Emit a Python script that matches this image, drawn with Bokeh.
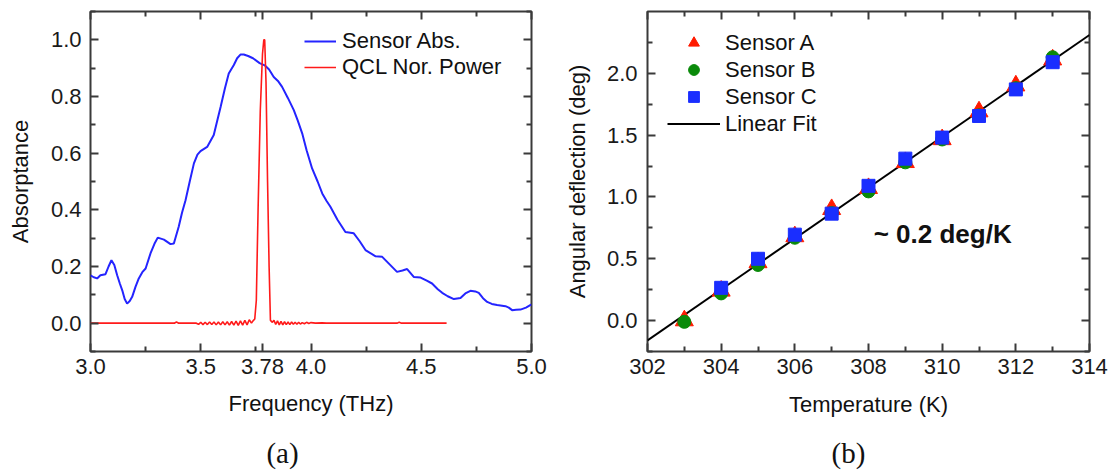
from bokeh.plotting import figure
from bokeh.models import (Range1d, FixedTicker, LinearAxis, Legend, LegendItem, Label,
                          CustomJSTickFormatter, NumeralTickFormatter)
from bokeh.core.properties import value
from bokeh.layouts import row, column
from bokeh.embed import file_html
from bokeh.resources import INLINE

# ---------------- Panel (a) data ----------------
abs_freq = [3.00, 3.015, 3.03, 3.045, 3.068, 3.082, 3.095, 3.108, 3.121, 3.133, 3.144, 3.155,
            3.166, 3.178, 3.189, 3.204, 3.219, 3.235, 3.25, 3.272, 3.29, 3.305, 3.333, 3.363,
            3.378, 3.40, 3.415, 3.431, 3.45, 3.469, 3.485, 3.499, 3.529, 3.559, 3.575, 3.59,
            3.61, 3.627, 3.65, 3.665, 3.68, 3.695, 3.715, 3.737, 3.767, 3.79, 3.81, 3.831,
            3.85, 3.869, 3.895, 3.922, 3.94, 3.96, 3.98, 4.005, 4.03, 4.051, 4.07, 4.088,
            4.12, 4.156, 4.194, 4.22, 4.247, 4.293, 4.323, 4.36, 4.39, 4.415, 4.436, 4.466,
            4.497, 4.525, 4.549, 4.575, 4.595, 4.62, 4.648, 4.678, 4.70, 4.723, 4.745, 4.761,
            4.78, 4.799, 4.82, 4.844, 4.882, 4.897, 4.912, 4.93, 4.95, 4.975, 5.0]
abs_val = [0.169, 0.162, 0.158, 0.169, 0.173, 0.200, 0.222, 0.205, 0.169, 0.140, 0.116, 0.085,
           0.069, 0.078, 0.093, 0.128, 0.158, 0.180, 0.193, 0.246, 0.280, 0.302, 0.295, 0.279,
           0.281, 0.340, 0.390, 0.434, 0.500, 0.564, 0.595, 0.607, 0.622, 0.664, 0.715, 0.763,
           0.830, 0.881, 0.911, 0.935, 0.948, 0.948, 0.943, 0.935, 0.918, 0.910, 0.895, 0.869,
           0.855, 0.834, 0.795, 0.752, 0.715, 0.670, 0.610, 0.546, 0.500, 0.458, 0.432, 0.411,
           0.365, 0.322, 0.317, 0.290, 0.258, 0.236, 0.234, 0.205, 0.181, 0.186, 0.191, 0.163,
           0.161, 0.150, 0.140, 0.120, 0.107, 0.095, 0.085, 0.089, 0.105, 0.114, 0.112, 0.107,
           0.088, 0.075, 0.068, 0.064, 0.060, 0.055, 0.046, 0.047, 0.048, 0.055, 0.066]

qcl_freq = [3.00, 3.38, 3.39, 3.40, 3.48, 3.49, 3.50, 3.51, 3.52, 3.53, 3.54, 3.55, 3.56, 3.57,
            3.58, 3.59, 3.60, 3.61, 3.62, 3.63, 3.64, 3.65, 3.66, 3.67, 3.68, 3.69, 3.70, 3.71,
            3.72, 3.73, 3.737, 3.745, 3.752, 3.760, 3.770, 3.780, 3.786, 3.790, 3.796, 3.803,
            3.810, 3.816, 3.825, 3.832, 3.840, 3.848, 3.856, 3.864, 3.872, 3.880, 3.888, 3.896,
            3.904, 3.912, 3.920, 3.928, 3.936, 3.944, 3.952, 3.960, 3.970, 3.980, 3.990, 4.000,
            4.020, 4.050, 4.070, 4.390, 4.400, 4.410, 4.615]
qcl_power = [0.0, 0.0, 0.004, 0.0, 0.0, -0.004, 0.003, -0.005, 0.003, -0.005, 0.004, -0.005, 0.004,
             -0.006, 0.004, -0.006, 0.005, -0.006, 0.005, -0.007, 0.006, -0.007, 0.007, -0.008,
             0.008, -0.007, 0.010, -0.006, 0.012, 0.000, 0.008, 0.015, 0.08, 0.40, 0.75, 0.95,
             1.0, 1.0, 0.85, 0.50, 0.20, 0.01, 0.003, 0.010, -0.004, 0.008, -0.006, 0.006, -0.006,
             0.005, -0.005, 0.004, -0.005, 0.004, -0.004, 0.003, -0.004, 0.003, -0.003, 0.002,
             -0.002, 0.003, -0.001, 0.002, 0.0, 0.001, 0.0, 0.0, 0.003, 0.0, 0.0]

a_xticks = [3.0, 3.5, 3.78, 4.0, 4.5, 5.0]
a_xtick_labels = ["3.0", "3.5", "3.78", "4.0", "4.5", "5.0"]
a_xminor = [3.25, 3.75, 4.25, 4.75]
a_yticks = [0.0, 0.2, 0.4, 0.6, 0.8, 1.0]
a_yminor = [-0.1, 0.1, 0.3, 0.5, 0.7, 0.9, 1.1]

# ---------------- Panel (b) data ----------------
temp_a = [303, 304, 305, 306, 307, 308, 309, 310, 311, 312, 313]
sensor_a = [0.00, 0.24, 0.47, 0.68, 0.90, 1.07, 1.28, 1.465, 1.69, 1.90, 2.11]
temp_b = [303, 304, 305, 306, 307, 308, 309, 310, 311, 312, 313]
sensor_b = [-0.01, 0.22, 0.45, 0.67, 0.87, 1.045, 1.28, 1.465, 1.66, 1.88, 2.13]
temp_c = [304, 305, 306, 307, 308, 309, 310, 311, 312, 313]
sensor_c = [0.265, 0.50, 0.695, 0.865, 1.09, 1.31, 1.48, 1.655, 1.87, 2.09]
fit_x = [302, 314]
fit_y = [-0.16, 2.31]

b_xticks = [302, 304, 306, 308, 310, 312, 314]
b_xminor = [303, 305, 307, 309, 311, 313]
b_yticks = [0.0, 0.5, 1.0, 1.5, 2.0]
b_yminor = [-0.25, 0.25, 0.75, 1.25, 1.75, 2.25]

panel_tags = ["(a)", "(b)"]

FONT = "Liberation Sans"
FRAME = "#3a3a3a"


def style_axis(ax, ticks, minor, labels=True, standoff=8, label_standoff=10):
    ax.ticker = FixedTicker(ticks=ticks, minor_ticks=minor)
    ax.major_tick_in = 8
    ax.major_tick_out = 0
    ax.minor_tick_in = 5
    ax.minor_tick_out = 0
    ax.major_tick_line_width = 2
    ax.minor_tick_line_width = 2
    ax.major_tick_line_color = FRAME
    ax.minor_tick_line_color = FRAME
    ax.axis_line_color = None
    if labels:
        ax.major_label_text_font = FONT
        ax.major_label_text_font_size = "22px"
        ax.major_label_text_color = "#1a1a1a"
        ax.major_label_standoff = standoff
        ax.axis_label_text_font = FONT
        ax.axis_label_text_font_size = "22px"
        ax.axis_label_text_font_style = "normal"
        ax.axis_label_text_color = "#111111"
        ax.axis_label_standoff = label_standoff
    else:
        ax.major_label_text_font_size = "1px"
        ax.major_label_text_color = None
        ax.major_label_standoff = 0


def base_fig(width, xr, yr, bl, br, xlabel, ylabel):
    p = figure(width=width, height=422, x_range=xr, y_range=yr,
               output_backend="svg", toolbar_location=None,
               min_border_left=bl, min_border_right=br,
               min_border_top=11, min_border_bottom=71,
               x_axis_label=xlabel, y_axis_label=ylabel)
    p.outline_line_color = FRAME
    p.outline_line_width = 2
    p.xgrid.visible = False
    p.ygrid.visible = False
    p.background_fill_color = "white"
    p.border_fill_color = "white"
    return p


# ---------------- Panel (a) ----------------
pa = base_fig(555, Range1d(3.0, 5.0), Range1d(-0.1, 1.1), 90, 24,
              "Frequency (THz)", "Absorptance")
r_abs = pa.line(abs_freq, abs_val, line_color="#2424ff", line_width=2)
r_qcl = pa.line(qcl_freq, qcl_power, line_color="#ff1a1a", line_width=1.6)

style_axis(pa.xaxis[0], a_xticks, a_xminor, standoff=7, label_standoff=14)
pa.xaxis[0].formatter = CustomJSTickFormatter(
    args=dict(tv=a_xticks, tl=a_xtick_labels),
    code="const i = tv.indexOf(tick); return i >= 0 ? tl[i] : tick.toFixed(1);")
style_axis(pa.yaxis[0], a_yticks, a_yminor, standoff=9, label_standoff=15)
pa.yaxis[0].formatter = NumeralTickFormatter(format="0.0")
top_a = LinearAxis()
style_axis(top_a, a_xticks, a_xminor, labels=False)
pa.add_layout(top_a, "above")
right_a = LinearAxis()
style_axis(right_a, a_yticks, a_yminor, labels=False)
pa.add_layout(right_a, "right")

leg_a = Legend(items=[LegendItem(label="Sensor Abs.", renderers=[r_abs]),
                      LegendItem(label="QCL Nor. Power", renderers=[r_qcl])],
               location=(214, 271), border_line_color=None, background_fill_alpha=0,
               padding=0, margin=0, spacing=0, glyph_width=32, glyph_height=26,
               label_height=26, label_standoff=6, label_text_font=FONT,
               label_text_font_size="22px", label_text_color="#111111")
pa.add_layout(leg_a)

# ---------------- Panel (b) ----------------
pb = base_fig(557, Range1d(302, 314), Range1d(-0.25, 2.5), 92, 23,
              "Temperature (K)", "Angular deflection (deg)")
r_fit = pb.line(fit_x, fit_y, line_color="black", line_width=2)
r_a = pb.scatter(temp_a, sensor_a, marker="triangle", size=18, fill_color="#ff1a00",
                 line_color="#ff1a00")
r_b = pb.scatter(temp_b, sensor_b, marker="circle", size=13, fill_color="#0a8a0a",
                 line_color="#0a8a0a")
r_c = pb.scatter(temp_c, sensor_c, marker="square", size=13, fill_color="#1a2eff",
                 line_color="#1a2eff")

style_axis(pb.xaxis[0], b_xticks, b_xminor, standoff=7, label_standoff=15)
style_axis(pb.yaxis[0], b_yticks, b_yminor, standoff=10, label_standoff=14)
pb.yaxis[0].formatter = NumeralTickFormatter(format="0.0")
top_b = LinearAxis()
style_axis(top_b, b_xticks, b_xminor, labels=False)
pb.add_layout(top_b, "above")
right_b = LinearAxis()
style_axis(right_b, b_yticks, b_yminor, labels=False)
pb.add_layout(right_b, "right")

leg_b = Legend(items=[LegendItem(label="Sensor A", renderers=[r_a]),
                      LegendItem(label="Sensor B", renderers=[r_b]),
                      LegendItem(label="Sensor C", renderers=[r_c]),
                      LegendItem(label="Linear Fit", renderers=[r_fit])],
               location=(20, 214), border_line_color=None, background_fill_alpha=0,
               padding=0, margin=0, spacing=0, glyph_width=53, glyph_height=27,
               label_height=27, label_standoff=5, label_text_font=FONT,
               label_text_font_size="22px", label_text_color="#111111")
pb.add_layout(leg_b)
pb.add_layout(Label(x=308.14, y=0.70, text="~ 0.2 deg/K", text_font=FONT,
                    text_font_size="26px", text_font_style="bold",
                    text_align="left", text_baseline="middle", text_color="#111111"))

# ---------------- Panel tags row: (a) (b) ----------------
tags = figure(width=1112, height=48, x_range=Range1d(0, 1112), y_range=Range1d(0, 48),
              output_backend="svg", toolbar_location=None,
              x_axis_location=None, y_axis_location=None, min_border=0)
tags.outline_line_color = None
tags.xgrid.visible = False
tags.ygrid.visible = False
tags.text(x=[282, 848], y=[18, 18], text=panel_tags,
          text_font=value("Liberation Serif"), text_font_size="29px",
          text_align="center", text_baseline="middle", text_color="#111111")

layout = column(row(pa, pb), tags)
open("out.html", "w").write(file_html(layout, INLINE))
